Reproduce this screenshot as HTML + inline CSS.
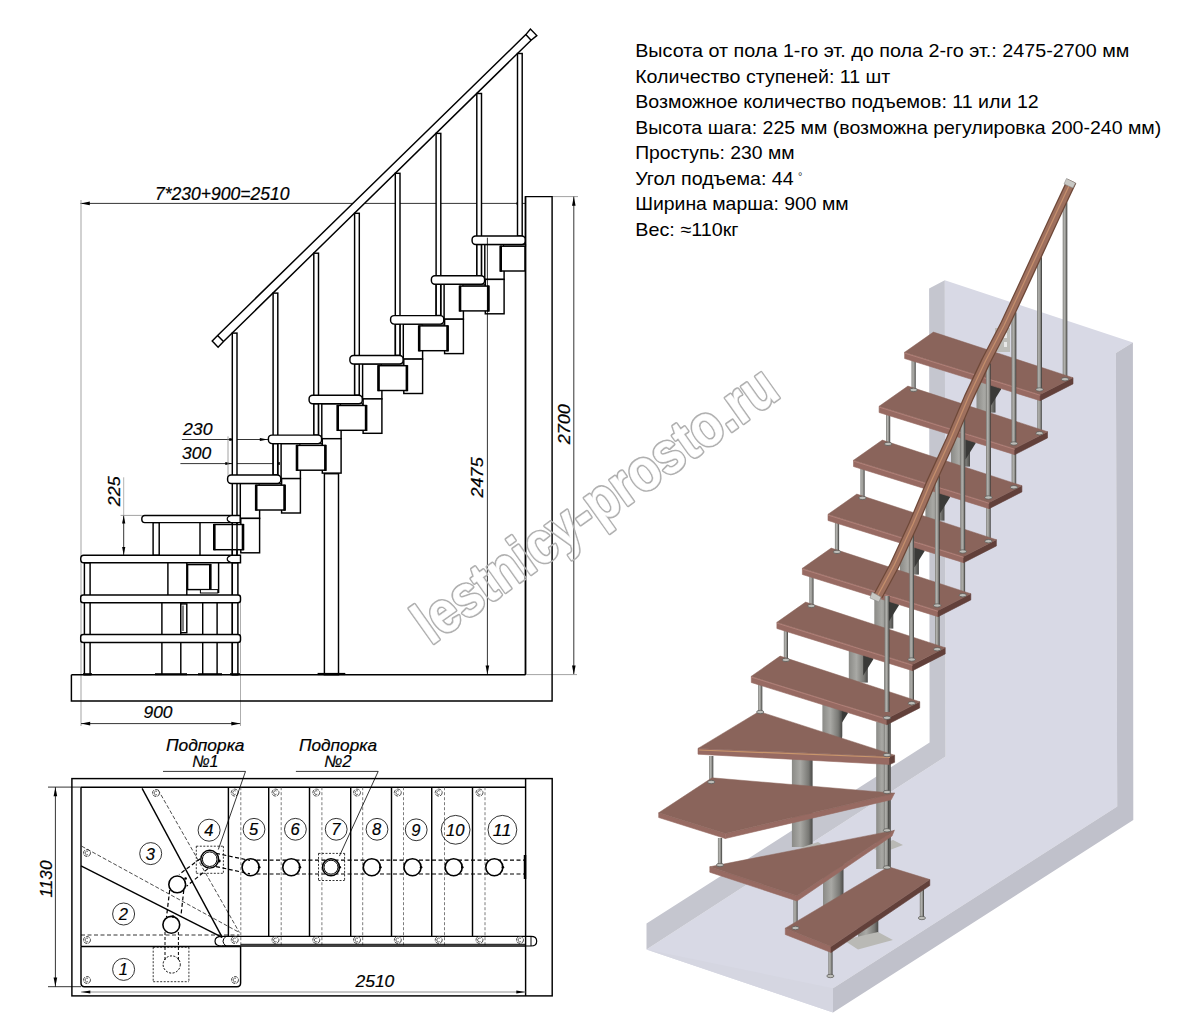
<!DOCTYPE html>
<html><head><meta charset="utf-8"><style>html,body{margin:0;padding:0;background:#fff;width:1191px;height:1015px;overflow:hidden}svg{display:block}</style></head>
<body><svg width="1191" height="1015" viewBox="0 0 1191 1015">
<defs>
<linearGradient id="rodg" x1="0" x2="1" y1="0" y2="0">
<stop offset="0" stop-color="#7c7c78"/><stop offset="0.35" stop-color="#b4b4b0"/><stop offset="0.7" stop-color="#8a8a86"/><stop offset="1" stop-color="#333331"/>
</linearGradient>
<linearGradient id="colg" x1="0" x2="1" y1="0" y2="0">
<stop offset="0" stop-color="#8a8a86"/><stop offset="0.4" stop-color="#a9a9a5"/><stop offset="0.8" stop-color="#7a7a76"/><stop offset="1" stop-color="#4a4a48"/>
</linearGradient>
</defs><rect width="1191" height="1015" fill="#fff"/>
<g font-family='"Liberation Sans", sans-serif' font-size="18.6" fill="#000">
<text x="635.2" y="56.9" textLength="494.2" lengthAdjust="spacingAndGlyphs">Высота от пола 1-го эт. до пола 2-го эт.: 2475-2700 мм</text>
<text x="635.2" y="82.6" textLength="255.1" lengthAdjust="spacingAndGlyphs">Количество ступеней: 11 шт</text>
<text x="635.2" y="107.8" textLength="403.5" lengthAdjust="spacingAndGlyphs">Возможное количество подъемов: 11 или 12</text>
<text x="635.2" y="133.6" textLength="526.1" lengthAdjust="spacingAndGlyphs">Высота шага: 225 мм (возможна регулировка 200-240 мм)</text>
<text x="635.2" y="158.6" textLength="159.4" lengthAdjust="spacingAndGlyphs">Проступь: 230 мм</text>
<text x="635.2" y="184.7" textLength="158.5" lengthAdjust="spacingAndGlyphs">Угол подъема: 44</text>
<text x="635.2" y="209.8" textLength="213.5" lengthAdjust="spacingAndGlyphs">Ширина марша: 900 мм</text>
<text x="635.2" y="235.5" textLength="103.4" lengthAdjust="spacingAndGlyphs">Вес: ≈110кг</text>
<text x="798" y="179.5" font-size="11" stroke="none" fill="#333">°</text>
</g>
<polygon points="944.8,280.3 1132.9,342.5 1115.9,353.1 1117.2,806.5 833.0,988.2 833.0,1012.5 646.5,949.4 945.6,756.5" fill="#d8d9e5" />
<polygon points="929.1,288.5 944.8,280.3 945.6,756.5 646.5,949.4 646.5,923.6 929.6,742.5" fill="#c5c6cf" />
<polygon points="1115.9,353.1 1132.9,342.5 1133.3,820.0 833.0,1012.5 833.0,988.2 1117.2,806.5" fill="#c0c1cb" />
<polygon points="646.5,949.4 833.0,1012.5 833.0,988.2" fill="#d5d6e1" />
<rect x="995" y="328" width="15" height="24" fill="#bdbdb9"/>
<rect x="1004" y="333" width="3" height="5" fill="#e8e8e8"/><rect x="1004" y="342" width="3" height="5" fill="#e8e8e8"/>
<rect x="976.5" y="375.6" width="19" height="37.0" fill="url(#colg)"/>
<polygon points="991.0,381.6 1001.0,385.6 1001.0,389.6 991.0,405.6" fill="#3a3a38" />
<rect x="951.0" y="429.6" width="19" height="37.0" fill="url(#colg)"/>
<polygon points="965.5,435.6 975.5,439.6 975.5,443.6 965.5,459.6" fill="#3a3a38" />
<rect x="925.4" y="483.6" width="19" height="37.0" fill="url(#colg)"/>
<polygon points="939.9,489.6 949.9,493.6 949.9,497.6 939.9,513.6" fill="#3a3a38" />
<rect x="899.9" y="537.6" width="19" height="37.0" fill="url(#colg)"/>
<polygon points="914.4,543.6 924.4,547.6 924.4,551.6 914.4,567.6" fill="#3a3a38" />
<rect x="874.3" y="591.6" width="19" height="37.0" fill="url(#colg)"/>
<polygon points="888.8,597.6 898.8,601.6 898.8,605.6 888.8,621.6" fill="#3a3a38" />
<rect x="848.8" y="645.6" width="19" height="37.0" fill="url(#colg)"/>
<polygon points="863.2,651.6 873.2,655.6 873.2,659.6 863.2,675.6" fill="#3a3a38" />
<rect x="823.2" y="699.6" width="19" height="37.0" fill="url(#colg)"/>
<polygon points="837.7,705.6 847.7,709.6 847.7,713.6 837.7,729.6" fill="#3a3a38" />
<rect x="822.4" y="700" width="19.7" height="40" fill="url(#colg)"/>
<rect x="791.9" y="755" width="20.7" height="92" fill="url(#colg)"/>
<rect x="823" y="860" width="20.5" height="78" fill="url(#colg)"/>
<rect x="858" y="915" width="20.3" height="23" fill="url(#colg)"/>
<polygon points="843.5,940.0 878.0,932.0 892.9,940.0 858.0,949.6" fill="#b9b9b5" />
<polygon points="832.0,700.0 848.0,694.0 860.0,700.0 845.0,706.0" fill="#aaaaa6" />
<polygon points="800.0,848.0 818.0,842.0 828.0,848.0 812.0,854.0" fill="#b9b9b5" />
<polygon points="872.0,848.0 893.0,840.0 903.0,845.0 882.0,853.0" fill="#b9b9b5" />
<rect x="911.5" y="358.5" width="4.2" height="31.4" fill="url(#rodg)"/>
<rect x="886.0" y="412.5" width="4.2" height="31.4" fill="url(#rodg)"/>
<rect x="860.4" y="466.5" width="4.2" height="31.4" fill="url(#rodg)"/>
<rect x="834.9" y="520.5" width="4.2" height="31.4" fill="url(#rodg)"/>
<rect x="809.3" y="574.5" width="4.2" height="31.4" fill="url(#rodg)"/>
<rect x="783.8" y="628.5" width="4.2" height="31.4" fill="url(#rodg)"/>
<rect x="1062.7" y="202.4" width="4.6" height="176.8" fill="url(#rodg)"/>
<rect x="1037.2" y="257.3" width="4.6" height="175.9" fill="url(#rodg)"/>
<rect x="1011.6" y="312.4" width="4.6" height="174.8" fill="url(#rodg)"/>
<rect x="986.1" y="363.5" width="4.6" height="177.7" fill="url(#rodg)"/>
<rect x="960.5" y="418.5" width="4.6" height="176.7" fill="url(#rodg)"/>
<rect x="935.0" y="476.1" width="4.6" height="173.1" fill="url(#rodg)"/>
<rect x="909.4" y="534.9" width="4.6" height="168.3" fill="url(#rodg)"/>
<rect x="876.2" y="722" width="14.6" height="147" fill="url(#colg)"/>
<rect x="884.1" y="596.0" width="4.8" height="272.0" fill="url(#rodg)"/>
<rect x="758.1" y="684.0" width="4.2" height="28.0" fill="url(#rodg)"/>
<rect x="709.1" y="756.0" width="4.2" height="26.0" fill="url(#rodg)"/>
<rect x="717.9" y="838.0" width="4.2" height="27.0" fill="url(#rodg)"/>
<rect x="793.4" y="898.0" width="4.2" height="30.0" fill="url(#rodg)"/>
<rect x="828.3" y="950.0" width="4.2" height="26.0" fill="url(#rodg)"/>
<rect x="919.8" y="885.0" width="4.2" height="33.0" fill="url(#rodg)"/>
<polygon points="904.6,352.3 1040.2,394.5 1040.2,400.7 904.6,358.5" fill="#976a62" stroke="#976a62" stroke-width="0.6" stroke-linejoin="round"/>
<polygon points="1040.2,394.5 1073.0,377.7 1073.0,383.9 1040.2,400.7" fill="#62403a" stroke="#62403a" stroke-width="0.6" stroke-linejoin="round"/>
<polygon points="904.6,352.3 933.4,332.1 1073.0,377.7 1040.2,394.5" fill="#8a645b" stroke="#8a645b" stroke-width="0.5"/>
<line x1="904.6" y1="353.1" x2="1040.2" y2="395.3" stroke="#b08078" stroke-width="1"/>
<polygon points="879.1,406.3 1014.7,448.5 1014.7,454.7 879.1,412.5" fill="#976a62" stroke="#976a62" stroke-width="0.6" stroke-linejoin="round"/>
<polygon points="1014.7,448.5 1047.5,431.7 1047.5,437.9 1014.7,454.7" fill="#62403a" stroke="#62403a" stroke-width="0.6" stroke-linejoin="round"/>
<polygon points="879.1,406.3 907.9,386.1 1047.5,431.7 1014.7,448.5" fill="#8a645b" stroke="#8a645b" stroke-width="0.5"/>
<line x1="879.1" y1="407.1" x2="1014.7" y2="449.3" stroke="#b08078" stroke-width="1"/>
<polygon points="853.5,460.3 989.1,502.5 989.1,508.7 853.5,466.5" fill="#976a62" stroke="#976a62" stroke-width="0.6" stroke-linejoin="round"/>
<polygon points="989.1,502.5 1021.9,485.7 1021.9,491.9 989.1,508.7" fill="#62403a" stroke="#62403a" stroke-width="0.6" stroke-linejoin="round"/>
<polygon points="853.5,460.3 882.3,440.1 1021.9,485.7 989.1,502.5" fill="#8a645b" stroke="#8a645b" stroke-width="0.5"/>
<line x1="853.5" y1="461.1" x2="989.1" y2="503.3" stroke="#b08078" stroke-width="1"/>
<polygon points="828.0,514.3 963.6,556.5 963.6,562.7 828.0,520.5" fill="#976a62" stroke="#976a62" stroke-width="0.6" stroke-linejoin="round"/>
<polygon points="963.6,556.5 996.4,539.7 996.4,545.9 963.6,562.7" fill="#62403a" stroke="#62403a" stroke-width="0.6" stroke-linejoin="round"/>
<polygon points="828.0,514.3 856.8,494.1 996.4,539.7 963.6,556.5" fill="#8a645b" stroke="#8a645b" stroke-width="0.5"/>
<line x1="828.0" y1="515.1" x2="963.6" y2="557.3" stroke="#b08078" stroke-width="1"/>
<polygon points="802.4,568.3 938.0,610.5 938.0,616.7 802.4,574.5" fill="#976a62" stroke="#976a62" stroke-width="0.6" stroke-linejoin="round"/>
<polygon points="938.0,610.5 970.8,593.7 970.8,599.9 938.0,616.7" fill="#62403a" stroke="#62403a" stroke-width="0.6" stroke-linejoin="round"/>
<polygon points="802.4,568.3 831.2,548.1 970.8,593.7 938.0,610.5" fill="#8a645b" stroke="#8a645b" stroke-width="0.5"/>
<line x1="802.4" y1="569.1" x2="938.0" y2="611.3" stroke="#b08078" stroke-width="1"/>
<polygon points="776.9,622.3 912.5,664.5 912.5,670.7 776.9,628.5" fill="#976a62" stroke="#976a62" stroke-width="0.6" stroke-linejoin="round"/>
<polygon points="912.5,664.5 945.2,647.7 945.2,653.9 912.5,670.7" fill="#62403a" stroke="#62403a" stroke-width="0.6" stroke-linejoin="round"/>
<polygon points="776.9,622.3 805.6,602.1 945.2,647.7 912.5,664.5" fill="#8a645b" stroke="#8a645b" stroke-width="0.5"/>
<line x1="776.9" y1="623.1" x2="912.5" y2="665.3" stroke="#b08078" stroke-width="1"/>
<polygon points="751.3,676.3 886.9,718.5 886.9,724.7 751.3,682.5" fill="#976a62" stroke="#976a62" stroke-width="0.6" stroke-linejoin="round"/>
<polygon points="886.9,718.5 919.7,701.7 919.7,707.9 886.9,724.7" fill="#62403a" stroke="#62403a" stroke-width="0.6" stroke-linejoin="round"/>
<polygon points="751.3,676.3 780.1,656.1 919.7,701.7 886.9,718.5" fill="#8a645b" stroke="#8a645b" stroke-width="0.5"/>
<line x1="751.3" y1="677.1" x2="886.9" y2="719.3" stroke="#b08078" stroke-width="1"/>
<polygon points="698.0,748.4 889.6,756.5 889.6,764.5 698.0,754.2" fill="#976a62" stroke="#976a62" stroke-width="0.6" stroke-linejoin="round"/>
<polygon points="889.6,756.5 894.6,755.2 894.6,762.3 889.6,764.5" fill="#62403a" stroke="#62403a" stroke-width="0.6" stroke-linejoin="round"/>
<polygon points="698.0,748.4 759.1,711.5 894.6,755.2 889.6,756.5" fill="#8a645b" stroke="#8a645b" stroke-width="0.5"/>
<line x1="699" y1="750" x2="890" y2="757.5" stroke="#c9966c" stroke-width="1.2"/>
<polygon points="658.7,812.8 725.3,833.5 725.3,838.5 658.7,817.5" fill="#976a62" stroke="#976a62" stroke-width="0.6" stroke-linejoin="round"/>
<polygon points="725.3,833.5 894.5,793.2 891.2,799.7 725.3,838.5" fill="#976a62" stroke="#976a62" stroke-width="0.6" stroke-linejoin="round"/>
<polygon points="658.7,812.8 712.0,777.8 894.5,793.2 725.3,833.5" fill="#8a645b" stroke="#8a645b" stroke-width="0.5"/>
<polygon points="709.8,866.8 797.0,895.8 797.0,901.0 709.8,872.2" fill="#976a62" stroke="#976a62" stroke-width="0.6" stroke-linejoin="round"/>
<polygon points="797.0,895.8 894.3,830.4 892.0,836.0 797.0,901.0" fill="#976a62" stroke="#976a62" stroke-width="0.6" stroke-linejoin="round"/>
<polygon points="709.8,866.8 894.3,830.4 797.0,895.8" fill="#8a645b" stroke="#8a645b" stroke-width="0.5"/>
<polygon points="785.3,928.2 831.0,946.5 831.0,952.5 785.3,934.5" fill="#976a62" stroke="#976a62" stroke-width="0.6" stroke-linejoin="round"/>
<polygon points="831.0,946.5 929.8,879.5 929.8,885.5 831.0,952.5" fill="#62403a" stroke="#62403a" stroke-width="0.6" stroke-linejoin="round"/>
<polygon points="785.3,928.2 888.5,866.8 929.8,879.5 831.0,946.5" fill="#8a645b" stroke="#8a645b" stroke-width="0.5"/>
<ellipse cx="913.6" cy="389.9" rx="3.6" ry="1.7" fill="#bdbdb8" stroke="#555552" stroke-width="0.7"/>
<ellipse cx="888.1" cy="443.9" rx="3.6" ry="1.7" fill="#bdbdb8" stroke="#555552" stroke-width="0.7"/>
<ellipse cx="862.5" cy="497.9" rx="3.6" ry="1.7" fill="#bdbdb8" stroke="#555552" stroke-width="0.7"/>
<ellipse cx="837.0" cy="551.9" rx="3.6" ry="1.7" fill="#bdbdb8" stroke="#555552" stroke-width="0.7"/>
<ellipse cx="811.4" cy="605.9" rx="3.6" ry="1.7" fill="#bdbdb8" stroke="#555552" stroke-width="0.7"/>
<ellipse cx="785.9" cy="659.9" rx="3.6" ry="1.7" fill="#bdbdb8" stroke="#555552" stroke-width="0.7"/>
<ellipse cx="1065.0" cy="379.2" rx="3.6" ry="1.7" fill="#bdbdb8" stroke="#555552" stroke-width="0.7"/>
<ellipse cx="1039.5" cy="433.2" rx="3.6" ry="1.7" fill="#bdbdb8" stroke="#555552" stroke-width="0.7"/>
<ellipse cx="1013.9" cy="487.2" rx="3.6" ry="1.7" fill="#bdbdb8" stroke="#555552" stroke-width="0.7"/>
<ellipse cx="988.4" cy="541.2" rx="3.6" ry="1.7" fill="#bdbdb8" stroke="#555552" stroke-width="0.7"/>
<ellipse cx="962.8" cy="595.2" rx="3.6" ry="1.7" fill="#bdbdb8" stroke="#555552" stroke-width="0.7"/>
<ellipse cx="937.2" cy="649.2" rx="3.6" ry="1.7" fill="#bdbdb8" stroke="#555552" stroke-width="0.7"/>
<ellipse cx="911.7" cy="703.2" rx="3.6" ry="1.7" fill="#bdbdb8" stroke="#555552" stroke-width="0.7"/>
<ellipse cx="887.0" cy="717.8" rx="3.6" ry="1.7" fill="#bdbdb8" stroke="#555552" stroke-width="0.7"/>
<ellipse cx="887.0" cy="755.0" rx="3.6" ry="1.7" fill="#bdbdb8" stroke="#555552" stroke-width="0.7"/>
<ellipse cx="887.0" cy="792.0" rx="3.6" ry="1.7" fill="#bdbdb8" stroke="#555552" stroke-width="0.7"/>
<ellipse cx="887.0" cy="830.3" rx="3.6" ry="1.7" fill="#bdbdb8" stroke="#555552" stroke-width="0.7"/>
<ellipse cx="887.0" cy="867.4" rx="3.6" ry="1.7" fill="#bdbdb8" stroke="#555552" stroke-width="0.7"/>
<ellipse cx="760.2" cy="712.0" rx="3.6" ry="1.7" fill="#bdbdb8" stroke="#555552" stroke-width="0.7"/>
<ellipse cx="711.2" cy="782.0" rx="3.6" ry="1.7" fill="#bdbdb8" stroke="#555552" stroke-width="0.7"/>
<ellipse cx="720.0" cy="865.0" rx="3.6" ry="1.7" fill="#bdbdb8" stroke="#555552" stroke-width="0.7"/>
<ellipse cx="795.5" cy="928.0" rx="3.6" ry="1.7" fill="#bdbdb8" stroke="#555552" stroke-width="0.7"/>
<ellipse cx="830.4" cy="976.0" rx="3.6" ry="1.7" fill="#bdbdb8" stroke="#555552" stroke-width="0.7"/>
<ellipse cx="921.9" cy="918.0" rx="3.6" ry="1.7" fill="#bdbdb8" stroke="#555552" stroke-width="0.7"/>
<rect x="1037.2" y="257.3" width="4.6" height="131.2" fill="url(#rodg)"/>
<ellipse cx="1039.5" cy="389.5" rx="3.6" ry="1.7" fill="#bdbdb8" stroke="#555552" stroke-width="0.7"/>
<rect x="1011.6" y="312.4" width="4.6" height="130.1" fill="url(#rodg)"/>
<ellipse cx="1013.9" cy="443.5" rx="3.6" ry="1.7" fill="#bdbdb8" stroke="#555552" stroke-width="0.7"/>
<rect x="986.1" y="363.5" width="4.6" height="133.0" fill="url(#rodg)"/>
<ellipse cx="988.4" cy="497.5" rx="3.6" ry="1.7" fill="#bdbdb8" stroke="#555552" stroke-width="0.7"/>
<rect x="960.5" y="418.5" width="4.6" height="132.0" fill="url(#rodg)"/>
<ellipse cx="962.8" cy="551.5" rx="3.6" ry="1.7" fill="#bdbdb8" stroke="#555552" stroke-width="0.7"/>
<rect x="935.0" y="476.1" width="4.6" height="128.4" fill="url(#rodg)"/>
<ellipse cx="937.2" cy="605.5" rx="3.6" ry="1.7" fill="#bdbdb8" stroke="#555552" stroke-width="0.7"/>
<rect x="909.4" y="534.9" width="4.6" height="123.6" fill="url(#rodg)"/>
<ellipse cx="911.7" cy="659.5" rx="3.6" ry="1.7" fill="#bdbdb8" stroke="#555552" stroke-width="0.7"/>
<rect x="884.6" y="596.0" width="4.8" height="116.0" fill="url(#rodg)"/>
<path d="M1071.8,181.0 L1054.7,217.3 L1038.3,252.8 L1021.9,288.3 L1004.5,325.5 L986.0,361.0 L969.0,397.0 L950.0,441.4 L931.0,482.7 L913.5,524.0 L894.5,565.4 L878.0,596.0" fill="none" stroke="#6e4838" stroke-width="10" stroke-linecap="butt" stroke-linejoin="round"/>
<path d="M1071.8,181.0 L1054.7,217.3 L1038.3,252.8 L1021.9,288.3 L1004.5,325.5 L986.0,361.0 L969.0,397.0 L950.0,441.4 L931.0,482.7 L913.5,524.0 L894.5,565.4 L878.0,596.0" fill="none" stroke="#9e705e" stroke-width="7.5" stroke-linejoin="round"/>
<path d="M1071.8,181.0 L1054.7,217.3 L1038.3,252.8 L1021.9,288.3 L1004.5,325.5 L986.0,361.0 L969.0,397.0 L950.0,441.4 L931.0,482.7 L913.5,524.0 L894.5,565.4 L878.0,596.0" fill="none" stroke="#c48e6c" stroke-width="1.3" stroke-linejoin="round" transform="translate(-0.5,0)"/>
<path d="M1066.5,178.5 L1075.5,183 L1073,188 L1064,184 Z" fill="#c8c8c4" stroke="#808080" stroke-width="0.5"/>
<path d="M872,592 L881,597 L879,602 L870,598 Z" fill="#c8c8c4" stroke="#808080" stroke-width="0.5"/>
<line x1="80.4" y1="203.4" x2="525.5" y2="203.4" stroke="#000" stroke-width="0.80" />
<polygon points="80.8,203.4 89.8,201.6 89.8,205.2" fill="#000"/>
<polygon points="522.6,203.4 516.6,204.9 516.6,201.9" fill="#000"/>
<line x1="81.0" y1="200.0" x2="81.0" y2="726.0" stroke="#999" stroke-width="0.90" />
<text x="155.0" y="199.6" font-family='"Liberation Sans", sans-serif' font-style="italic" font-size="17.6" stroke="#000" stroke-width="0.2" textLength="134.5" lengthAdjust="spacingAndGlyphs">7*230+900=2510</text>
<line x1="552.0" y1="196.6" x2="578.0" y2="196.6" stroke="#8a8a8a" stroke-width="0.80" />
<line x1="573.8" y1="196.6" x2="573.8" y2="674.6" stroke="#000" stroke-width="0.80" />
<polygon points="573.8,196.8 575.6,205.8 572.0,205.8" fill="#000"/>
<polygon points="573.8,674.4 572.0,665.4 575.6,665.4" fill="#000"/>
<line x1="526.7" y1="674.6" x2="577.0" y2="674.6" stroke="#999" stroke-width="0.90" />
<text x="0" y="0" font-family='"Liberation Sans", sans-serif' font-style="italic" font-size="16.5" stroke="#000" stroke-width="0.2" textLength="40.2" lengthAdjust="spacingAndGlyphs" transform="translate(569.8,444.3) rotate(-90)">2700</text>
<line x1="81.0" y1="723.6" x2="240.5" y2="723.6" stroke="#000" stroke-width="0.80" />
<polygon points="81.2,723.6 90.2,721.8 90.2,725.4" fill="#000"/>
<polygon points="240.3,723.6 231.3,725.4 231.3,721.8" fill="#000"/>
<line x1="240.5" y1="600.0" x2="240.5" y2="726.0" stroke="#999" stroke-width="0.80" />
<text x="143.5" y="718.2" font-family='"Liberation Sans", sans-serif' font-style="italic" font-size="16.5" stroke="#000" stroke-width="0.2" textLength="29.0" lengthAdjust="spacingAndGlyphs">900</text>
<line x1="123.7" y1="477.3" x2="123.7" y2="515.4" stroke="#aaa" stroke-width="0.90" />
<line x1="123.7" y1="515.4" x2="123.7" y2="555.3" stroke="#000" stroke-width="0.80" />
<polygon points="123.7,515.6 125.3,523.6 122.1,523.6" fill="#000"/>
<polygon points="123.7,555.0 122.1,547.0 125.3,547.0" fill="#000"/>
<line x1="120.6" y1="515.4" x2="141.8" y2="515.4" stroke="#8a8a8a" stroke-width="0.80" />
<text x="0" y="0" font-family='"Liberation Sans", sans-serif' font-style="italic" font-size="16.5" stroke="#000" stroke-width="0.2" textLength="30.0" lengthAdjust="spacingAndGlyphs" transform="translate(120.3,506.2) rotate(-90)">225</text>
<line x1="181.9" y1="439.5" x2="268.0" y2="439.5" stroke="#000" stroke-width="0.80" />
<polygon points="236.3,439.5 229.3,441.0 229.3,438.0" fill="#000"/>
<polygon points="267.8,439.5 259.8,441.1 259.8,437.9" fill="#000"/>
<line x1="180.4" y1="463.6" x2="276.0" y2="463.6" stroke="#000" stroke-width="0.80" />
<polygon points="232.3,463.6 225.3,465.1 225.3,462.1" fill="#000"/>
<polygon points="272.8,463.6 279.8,462.1 279.8,465.1" fill="#000"/>
<line x1="228.0" y1="436.4" x2="228.0" y2="478.0" stroke="#8a8a8a" stroke-width="0.80" />
<text x="183.0" y="434.5" font-family='"Liberation Sans", sans-serif' font-style="italic" font-size="16.5" stroke="#000" stroke-width="0.2" textLength="29.5" lengthAdjust="spacingAndGlyphs">230</text>
<text x="182.0" y="458.7" font-family='"Liberation Sans", sans-serif' font-style="italic" font-size="16.5" stroke="#000" stroke-width="0.2" textLength="29.2" lengthAdjust="spacingAndGlyphs">300</text>
<path d="M71.4,674.7 L525.5,674.7 M71.4,674.7 L71.4,701 L552.1,701 L552.1,196.6 L525.5,196.6 L525.5,674.7" fill="none" stroke="#000" stroke-width="1.45"/>
<rect x="324.4" y="473.7" width="14.1" height="201.0" rx="0.0" fill="#fff" stroke="#000" stroke-width="1.45"/>
<line x1="317.6" y1="674.0" x2="345.3" y2="674.0" stroke="#000" stroke-width="2.20" />
<path d="M217.6,335.4 L525.8,34.6 L530.4,29.1 L536.8,35.6 L531.1,40.2 L223.5,341.5 L218.1,347.2 L212.2,341 Z M217.6,335.4 L223.5,341.5 M525.8,34.6 L531.1,40.2" fill="#fff" stroke="#000" stroke-width="1.45" stroke-linejoin="miter"/>
<rect x="232.3" y="333.1" width="4.7" height="341.5" rx="0.0" fill="#fff" stroke="#000" stroke-width="1.45"/>
<rect x="273.1" y="293.1" width="4.7" height="181.8" rx="0.0" fill="#fff" stroke="#000" stroke-width="1.45"/>
<rect x="313.8" y="253.2" width="4.7" height="181.9" rx="0.0" fill="#fff" stroke="#000" stroke-width="1.45"/>
<rect x="354.6" y="213.3" width="4.7" height="182.0" rx="0.0" fill="#fff" stroke="#000" stroke-width="1.45"/>
<rect x="395.3" y="173.3" width="4.7" height="182.1" rx="0.0" fill="#fff" stroke="#000" stroke-width="1.45"/>
<rect x="436.1" y="133.4" width="4.7" height="182.2" rx="0.0" fill="#fff" stroke="#000" stroke-width="1.45"/>
<rect x="476.8" y="93.5" width="4.7" height="182.3" rx="0.0" fill="#fff" stroke="#000" stroke-width="1.45"/>
<rect x="517.5" y="53.5" width="4.7" height="182.4" rx="0.0" fill="#fff" stroke="#000" stroke-width="1.45"/>
<rect x="484.8" y="244.4" width="19.3" height="35.0" rx="0.0" fill="#fff" stroke="#000" stroke-width="1.45"/>
<rect x="485.3" y="279.4" width="18.8" height="34.4" rx="0.0" fill="#fff" stroke="#000" stroke-width="1.45"/>
<rect x="503.6" y="244.4" width="22.0" height="1.8" rx="0.0" fill="#fff" stroke="#000" stroke-width="1.00"/>
<rect x="500.7" y="246.2" width="24.3" height="24.8" rx="0.0" fill="#fff" stroke="#000" stroke-width="1.45"/>
<line x1="500.7" y1="245.7" x2="500.7" y2="271.7" stroke="#000" stroke-width="2.60" />
<rect x="476.9" y="244.4" width="4.5" height="31.3" rx="0.0" fill="#fff" stroke="#000" stroke-width="1.45"/>
<rect x="472.1" y="235.9" width="53.2" height="8.5" rx="3.5" fill="#fff" stroke="#000" stroke-width="1.45"/>
<rect x="444.1" y="284.2" width="19.3" height="35.0" rx="0.0" fill="#fff" stroke="#000" stroke-width="1.45"/>
<rect x="444.6" y="319.2" width="18.8" height="34.4" rx="0.0" fill="#fff" stroke="#000" stroke-width="1.45"/>
<rect x="462.9" y="284.2" width="22.0" height="1.8" rx="0.0" fill="#fff" stroke="#000" stroke-width="1.00"/>
<rect x="460.0" y="286.1" width="28.4" height="24.8" rx="0.0" fill="#fff" stroke="#000" stroke-width="1.45"/>
<line x1="460.0" y1="285.6" x2="460.0" y2="311.6" stroke="#000" stroke-width="2.60" />
<line x1="488.4" y1="285.6" x2="488.4" y2="311.6" stroke="#000" stroke-width="2.60" />
<rect x="436.2" y="284.2" width="4.5" height="31.3" rx="0.0" fill="#fff" stroke="#000" stroke-width="1.45"/>
<rect x="431.4" y="275.8" width="53.2" height="8.5" rx="3.5" fill="#fff" stroke="#000" stroke-width="1.45"/>
<rect x="403.3" y="324.1" width="19.3" height="35.0" rx="0.0" fill="#fff" stroke="#000" stroke-width="1.45"/>
<rect x="403.8" y="359.1" width="18.8" height="34.4" rx="0.0" fill="#fff" stroke="#000" stroke-width="1.45"/>
<rect x="422.1" y="324.1" width="22.0" height="1.8" rx="0.0" fill="#fff" stroke="#000" stroke-width="1.00"/>
<rect x="419.2" y="325.9" width="28.4" height="24.8" rx="0.0" fill="#fff" stroke="#000" stroke-width="1.45"/>
<line x1="419.2" y1="325.4" x2="419.2" y2="351.4" stroke="#000" stroke-width="2.60" />
<line x1="447.6" y1="325.4" x2="447.6" y2="351.4" stroke="#000" stroke-width="2.60" />
<rect x="395.4" y="324.1" width="4.5" height="31.3" rx="0.0" fill="#fff" stroke="#000" stroke-width="1.45"/>
<rect x="390.6" y="315.6" width="53.2" height="8.5" rx="3.5" fill="#fff" stroke="#000" stroke-width="1.45"/>
<rect x="362.6" y="363.9" width="19.3" height="35.0" rx="0.0" fill="#fff" stroke="#000" stroke-width="1.45"/>
<rect x="363.1" y="398.9" width="18.8" height="34.4" rx="0.0" fill="#fff" stroke="#000" stroke-width="1.45"/>
<rect x="381.4" y="363.9" width="22.0" height="1.8" rx="0.0" fill="#fff" stroke="#000" stroke-width="1.00"/>
<rect x="378.5" y="365.7" width="28.4" height="24.8" rx="0.0" fill="#fff" stroke="#000" stroke-width="1.45"/>
<line x1="378.5" y1="365.2" x2="378.5" y2="391.2" stroke="#000" stroke-width="2.60" />
<line x1="406.9" y1="365.2" x2="406.9" y2="391.2" stroke="#000" stroke-width="2.60" />
<rect x="354.7" y="363.9" width="4.5" height="31.3" rx="0.0" fill="#fff" stroke="#000" stroke-width="1.45"/>
<rect x="349.9" y="355.4" width="53.2" height="8.5" rx="3.5" fill="#fff" stroke="#000" stroke-width="1.45"/>
<rect x="321.8" y="403.7" width="19.3" height="35.0" rx="0.0" fill="#fff" stroke="#000" stroke-width="1.45"/>
<rect x="322.3" y="438.7" width="18.8" height="34.4" rx="0.0" fill="#fff" stroke="#000" stroke-width="1.45"/>
<rect x="340.6" y="403.7" width="22.0" height="1.8" rx="0.0" fill="#fff" stroke="#000" stroke-width="1.00"/>
<rect x="337.7" y="405.5" width="28.4" height="24.8" rx="0.0" fill="#fff" stroke="#000" stroke-width="1.45"/>
<line x1="337.7" y1="405.0" x2="337.7" y2="431.0" stroke="#000" stroke-width="2.60" />
<line x1="366.1" y1="405.0" x2="366.1" y2="431.0" stroke="#000" stroke-width="2.60" />
<rect x="313.9" y="403.7" width="4.5" height="31.3" rx="0.0" fill="#fff" stroke="#000" stroke-width="1.45"/>
<rect x="309.1" y="395.2" width="53.2" height="8.5" rx="3.5" fill="#fff" stroke="#000" stroke-width="1.45"/>
<rect x="281.1" y="443.6" width="19.3" height="35.0" rx="0.0" fill="#fff" stroke="#000" stroke-width="1.45"/>
<rect x="281.6" y="478.6" width="18.8" height="34.4" rx="0.0" fill="#fff" stroke="#000" stroke-width="1.45"/>
<rect x="299.9" y="443.6" width="22.0" height="1.8" rx="0.0" fill="#fff" stroke="#000" stroke-width="1.00"/>
<rect x="297.0" y="445.4" width="28.4" height="24.8" rx="0.0" fill="#fff" stroke="#000" stroke-width="1.45"/>
<line x1="297.0" y1="444.9" x2="297.0" y2="470.9" stroke="#000" stroke-width="2.60" />
<line x1="325.4" y1="444.9" x2="325.4" y2="470.9" stroke="#000" stroke-width="2.60" />
<rect x="273.2" y="443.6" width="4.5" height="31.3" rx="0.0" fill="#fff" stroke="#000" stroke-width="1.45"/>
<rect x="268.4" y="435.1" width="53.2" height="8.5" rx="3.5" fill="#fff" stroke="#000" stroke-width="1.45"/>
<rect x="240.3" y="483.4" width="19.3" height="35.0" rx="0.0" fill="#fff" stroke="#000" stroke-width="1.45"/>
<rect x="240.8" y="518.4" width="18.8" height="34.4" rx="0.0" fill="#fff" stroke="#000" stroke-width="1.45"/>
<rect x="259.1" y="483.4" width="22.0" height="1.8" rx="0.0" fill="#fff" stroke="#000" stroke-width="1.00"/>
<rect x="256.2" y="485.2" width="28.4" height="24.8" rx="0.0" fill="#fff" stroke="#000" stroke-width="1.45"/>
<line x1="256.2" y1="484.7" x2="256.2" y2="510.7" stroke="#000" stroke-width="2.60" />
<line x1="284.6" y1="484.7" x2="284.6" y2="510.7" stroke="#000" stroke-width="2.60" />
<rect x="227.6" y="474.9" width="53.2" height="8.5" rx="3.5" fill="#fff" stroke="#000" stroke-width="1.45"/>
<line x1="525.5" y1="196.6" x2="525.5" y2="674.7" stroke="#000" stroke-width="1.45" />
<rect x="153.1" y="522.5" width="6.1" height="32.8" rx="0.0" fill="#fff" stroke="#000" stroke-width="1.45"/>
<line x1="200.0" y1="522.5" x2="200.0" y2="555.3" stroke="#000" stroke-width="1.45" />
<rect x="214.3" y="524.5" width="28.7" height="25.2" rx="0.0" fill="#fff" stroke="#000" stroke-width="1.45"/>
<line x1="214.3" y1="524.0" x2="214.3" y2="550.2" stroke="#000" stroke-width="2.60" />
<line x1="243.0" y1="524.0" x2="243.0" y2="550.2" stroke="#000" stroke-width="2.60" />
<line x1="232.3" y1="522" x2="232.3" y2="556" stroke="#000" stroke-width="1.45"/>
<line x1="237.0" y1="522" x2="237.0" y2="556" stroke="#000" stroke-width="1.45"/>
<path d="M144.8,515.4 L240.2,515.4 L240.2,522.6 L144.8,522.6 Q141.8,522.6 141.8,519 Q141.8,515.4 144.8,515.4 Z" fill="#fff" stroke="#000" stroke-width="1.45"/>
<path d="M230.8,515.6 Q227,517 227.2,519 Q227,521 230.8,522.4" fill="none" stroke="#000" stroke-width="1.1"/>
<rect x="84.4" y="562.8" width="5.7" height="111.9" rx="0.0" fill="#fff" stroke="#000" stroke-width="1.45"/>
<rect x="232.3" y="562.8" width="5.6" height="111.9" rx="0.0" fill="#fff" stroke="#000" stroke-width="1.45"/>
<line x1="167.9" y1="562.8" x2="167.9" y2="594.9" stroke="#000" stroke-width="1.45" />
<line x1="186.8" y1="562.8" x2="186.8" y2="594.9" stroke="#000" stroke-width="1.45" />
<rect x="187.6" y="564.6" width="22.7" height="25.0" rx="0.0" fill="#fff" stroke="#000" stroke-width="1.45"/>
<line x1="210.3" y1="564.0" x2="210.3" y2="590.0" stroke="#000" stroke-width="2.60" />
<rect x="200.4" y="589.6" width="17.4" height="3.4" rx="0.0" fill="#fff" stroke="#000" stroke-width="1.00"/>
<line x1="218.6" y1="562.8" x2="218.6" y2="593.0" stroke="#000" stroke-width="1.45" />
<path d="M83.7,555.3 L240.5,555.3 L240.5,562.8 L83.7,562.8 Q80.7,562.8 80.7,559 Q80.7,555.3 83.7,555.3 Z" fill="#fff" stroke="#000" stroke-width="1.45"/>
<path d="M230.8,555.5 Q227,557 227.2,559 Q227,561 230.8,562.6" fill="none" stroke="#000" stroke-width="1.1"/>
<rect x="80.7" y="594.9" width="159.8" height="7.8" rx="2.5" fill="#fff" stroke="#000" stroke-width="1.45"/>
<line x1="161.9" y1="602.7" x2="161.9" y2="634.5" stroke="#000" stroke-width="1.45" />
<line x1="180.8" y1="602.7" x2="180.8" y2="634.5" stroke="#000" stroke-width="1.45" />
<rect x="180.8" y="603.9" width="6.0" height="28.8" rx="0.0" fill="#fff" stroke="#000" stroke-width="1.45"/>
<line x1="183.0" y1="605.5" x2="183.0" y2="631.0" stroke="#000" stroke-width="1.00" />
<line x1="202.7" y1="602.7" x2="202.7" y2="634.5" stroke="#000" stroke-width="1.45" />
<line x1="217.1" y1="602.7" x2="217.1" y2="634.5" stroke="#000" stroke-width="1.45" />
<rect x="80.7" y="634.5" width="159.8" height="8.0" rx="2.5" fill="#fff" stroke="#000" stroke-width="1.45"/>
<line x1="161.9" y1="642.5" x2="161.9" y2="674.7" stroke="#000" stroke-width="1.45" />
<line x1="180.8" y1="642.5" x2="180.8" y2="674.7" stroke="#000" stroke-width="1.45" />
<line x1="202.7" y1="642.5" x2="202.7" y2="674.7" stroke="#000" stroke-width="1.45" />
<line x1="217.1" y1="642.5" x2="217.1" y2="674.7" stroke="#000" stroke-width="1.45" />
<line x1="83.0" y1="674.2" x2="92.0" y2="674.2" stroke="#000" stroke-width="2.00" />
<line x1="155.0" y1="674.2" x2="187.0" y2="674.2" stroke="#000" stroke-width="2.00" />
<line x1="198.0" y1="674.2" x2="222.0" y2="674.2" stroke="#000" stroke-width="2.00" />
<line x1="230.0" y1="674.2" x2="240.0" y2="674.2" stroke="#000" stroke-width="2.00" />
<line x1="487.4" y1="237.7" x2="487.4" y2="674.6" stroke="#000" stroke-width="0.80" />
<polygon points="487.4,674.4 485.6,665.4 489.2,665.4" fill="#000"/>
<text x="0" y="0" font-family='"Liberation Sans", sans-serif' font-style="italic" font-size="16.5" stroke="#000" stroke-width="0.2" textLength="40.2" lengthAdjust="spacingAndGlyphs" transform="translate(483.2,497.5) rotate(-90)">2475</text>
<rect x="71.9" y="778.6" width="480.3" height="217.3" rx="0.0" fill="none" stroke="#000" stroke-width="1.45"/>
<line x1="81.0" y1="787.2" x2="525.6" y2="787.2" stroke="#000" stroke-width="1.45" />
<line x1="525.6" y1="778.6" x2="525.6" y2="995.9" stroke="#000" stroke-width="1.45" />
<line x1="81.0" y1="787.2" x2="81.0" y2="946.5" stroke="#000" stroke-width="1.45" />
<line x1="55.4" y1="787.1" x2="55.4" y2="986.7" stroke="#000" stroke-width="0.80" />
<polygon points="55.4,787.3 57.2,796.3 53.6,796.3" fill="#000"/>
<polygon points="55.4,986.5 53.6,977.5 57.2,977.5" fill="#000"/>
<line x1="48.0" y1="787.1" x2="81.0" y2="787.1" stroke="#000" stroke-width="0.80" />
<line x1="48.0" y1="986.7" x2="81.0" y2="986.7" stroke="#000" stroke-width="0.80" />
<text x="0" y="0" font-family='"Liberation Sans", sans-serif' font-style="italic" font-size="16.5" stroke="#000" stroke-width="0.2" textLength="36.8" lengthAdjust="spacingAndGlyphs" transform="translate(52.0,897.4) rotate(-90)">1130</text>
<line x1="81.0" y1="992.0" x2="525.6" y2="992.0" stroke="#777" stroke-width="0.80" />
<polygon points="81.3,992.0 90.3,990.4 90.3,993.6" fill="#000"/>
<polygon points="525.3,992.0 516.3,993.6 516.3,990.4" fill="#000"/>
<text x="355.5" y="987.0" font-family='"Liberation Sans", sans-serif' font-style="italic" font-size="16.5" stroke="#000" stroke-width="0.2" textLength="38.8" lengthAdjust="spacingAndGlyphs">2510</text>
<path d="M81,946.5 L81,983 Q81,986.7 84.5,986.7 L237,986.7 Q240.6,986.7 240.6,983 L240.6,946.5" fill="none" stroke="#000" stroke-width="1.45"/>
<line x1="81.0" y1="946.5" x2="240.6" y2="946.5" stroke="#000" stroke-width="1.45" />
<line x1="81.0" y1="935.0" x2="239.4" y2="935.0" stroke="#000" stroke-width="0.80" stroke-dasharray="4,2.5"/>
<line x1="81.0" y1="865.9" x2="222.2" y2="937.4" stroke="#000" stroke-width="1.40" />
<line x1="142.1" y1="788.3" x2="222.2" y2="937.4" stroke="#000" stroke-width="1.40" />
<line x1="81.7" y1="846.2" x2="239.4" y2="932.5" stroke="#000" stroke-width="0.70" stroke-dasharray="4,2"/>
<line x1="158.0" y1="789.6" x2="239.4" y2="932.5" stroke="#000" stroke-width="0.70" stroke-dasharray="4,2"/>
<line x1="228.4" y1="787.2" x2="228.4" y2="937.0" stroke="#000" stroke-width="1.45" />
<line x1="268.7" y1="787.2" x2="268.7" y2="937.0" stroke="#000" stroke-width="1.45" />
<line x1="309.5" y1="787.2" x2="309.5" y2="937.0" stroke="#000" stroke-width="1.45" />
<line x1="350.7" y1="787.2" x2="350.7" y2="937.0" stroke="#000" stroke-width="1.45" />
<line x1="391.5" y1="787.2" x2="391.5" y2="937.0" stroke="#000" stroke-width="1.45" />
<line x1="431.7" y1="787.2" x2="431.7" y2="937.0" stroke="#000" stroke-width="1.45" />
<line x1="472.5" y1="787.2" x2="472.5" y2="937.0" stroke="#000" stroke-width="1.45" />
<line x1="240.8" y1="787.2" x2="240.8" y2="946.0" stroke="#444" stroke-width="0.70" stroke-dasharray="3,2"/>
<line x1="281.2" y1="787.2" x2="281.2" y2="946.0" stroke="#444" stroke-width="0.70" stroke-dasharray="3,2"/>
<line x1="321.9" y1="787.2" x2="321.9" y2="946.0" stroke="#444" stroke-width="0.70" stroke-dasharray="3,2"/>
<line x1="362.7" y1="787.2" x2="362.7" y2="946.0" stroke="#444" stroke-width="0.70" stroke-dasharray="3,2"/>
<line x1="403.5" y1="787.2" x2="403.5" y2="946.0" stroke="#444" stroke-width="0.70" stroke-dasharray="3,2"/>
<line x1="444.5" y1="787.2" x2="444.5" y2="946.0" stroke="#444" stroke-width="0.70" stroke-dasharray="3,2"/>
<line x1="485.0" y1="787.2" x2="485.0" y2="946.0" stroke="#444" stroke-width="0.70" stroke-dasharray="3,2"/>
<line x1="222.0" y1="936.4" x2="526.0" y2="936.4" stroke="#000" stroke-width="1.20" />
<line x1="222.0" y1="946.0" x2="526.0" y2="946.0" stroke="#000" stroke-width="1.30" />
<line x1="240.6" y1="944.3" x2="526.0" y2="944.3" stroke="#000" stroke-width="1.00" />
<path d="M222,936.4 Q215,936.4 215,941.2 Q215,946 222,946" fill="none" stroke="#000" stroke-width="1.2"/>
<path d="M226,936.4 Q220,941.2 226,946" fill="none" stroke="#000" stroke-width="1.0"/>
<path d="M526,936.4 L531,936.4 Q536.7,936.4 536.7,941.2 Q536.7,946 531,946 L526,946" fill="none" stroke="#000" stroke-width="1.2"/>
<line x1="531.0" y1="936.4" x2="531.0" y2="946.0" stroke="#000" stroke-width="1.00" />
<line x1="250.0" y1="860.2" x2="525.0" y2="860.2" stroke="#000" stroke-width="1.20" stroke-dasharray="4,2.5"/>
<line x1="250.0" y1="874.0" x2="525.0" y2="874.0" stroke="#000" stroke-width="1.20" stroke-dasharray="4,2.5"/>
<line x1="525.0" y1="855.0" x2="525.0" y2="879.0" stroke="#000" stroke-width="2.50" />
<circle cx="250.6" cy="867.2" r="8.5" fill="#fff" stroke="#000" stroke-width="1.60"/>
<circle cx="259.2" cy="867.2" r="1.3" fill="#000"/>
<circle cx="291.3" cy="867.2" r="8.5" fill="#fff" stroke="#000" stroke-width="1.60"/>
<circle cx="299.9" cy="867.2" r="1.3" fill="#000"/>
<circle cx="371.8" cy="867.2" r="8.5" fill="#fff" stroke="#000" stroke-width="1.60"/>
<circle cx="380.4" cy="867.2" r="1.3" fill="#000"/>
<circle cx="412.5" cy="867.2" r="8.5" fill="#fff" stroke="#000" stroke-width="1.60"/>
<circle cx="421.1" cy="867.2" r="1.3" fill="#000"/>
<circle cx="453.7" cy="867.2" r="8.5" fill="#fff" stroke="#000" stroke-width="1.60"/>
<circle cx="462.3" cy="867.2" r="1.3" fill="#000"/>
<circle cx="494.3" cy="867.2" r="8.5" fill="#fff" stroke="#000" stroke-width="1.60"/>
<circle cx="502.9" cy="867.2" r="1.3" fill="#000"/>
<circle cx="331.0" cy="867.2" r="8.5" fill="#fff" stroke="#000" stroke-width="1.50"/>
<circle cx="331.0" cy="867.2" r="7.0" fill="none" stroke="#000" stroke-width="1.00"/>
<circle cx="339.8" cy="867.2" r="1.3" fill="#000"/>
<line x1="318.5" y1="853.4" x2="344.6" y2="853.4" stroke="#000" stroke-width="0.80" stroke-dasharray="2,1.5"/>
<line x1="318.5" y1="880.5" x2="344.6" y2="880.5" stroke="#000" stroke-width="0.80" stroke-dasharray="2,1.5"/>
<line x1="318.5" y1="853.4" x2="318.5" y2="880.5" stroke="#000" stroke-width="0.80" stroke-dasharray="2,1.5"/>
<line x1="344.6" y1="853.4" x2="344.6" y2="880.5" stroke="#000" stroke-width="0.80" stroke-dasharray="2,1.5"/>
<line x1="216.0" y1="853.3" x2="250.0" y2="860.5" stroke="#000" stroke-width="1.20" stroke-dasharray="4,2.5"/>
<line x1="216.0" y1="866.6" x2="250.0" y2="873.8" stroke="#000" stroke-width="1.20" stroke-dasharray="4,2.5"/>
<line x1="200.3" y1="858.7" x2="179.0" y2="874.5" stroke="#000" stroke-width="1.20" stroke-dasharray="4,2.5"/>
<line x1="208.0" y1="868.6" x2="186.5" y2="886.3" stroke="#000" stroke-width="1.20" stroke-dasharray="4,2.5"/>
<line x1="169.7" y1="890.0" x2="166.5" y2="917.0" stroke="#000" stroke-width="1.20" stroke-dasharray="4,2.5"/>
<line x1="183.8" y1="890.0" x2="180.8" y2="917.0" stroke="#000" stroke-width="1.20" stroke-dasharray="4,2.5"/>
<line x1="165.0" y1="932.0" x2="165.0" y2="960.0" stroke="#000" stroke-width="1.00" stroke-dasharray="3,2"/>
<line x1="178.4" y1="932.0" x2="178.4" y2="960.0" stroke="#000" stroke-width="1.00" stroke-dasharray="3,2"/>
<circle cx="209.7" cy="859.2" r="8.9" fill="#fff" stroke="#000" stroke-width="1.40"/>
<circle cx="209.7" cy="859.2" r="7.3" fill="none" stroke="#000" stroke-width="1.00"/>
<circle cx="219.3" cy="861" r="1.4" fill="#000"/>
<circle cx="177.2" cy="884.4" r="8.4" fill="#fff" stroke="#000" stroke-width="1.60"/>
<circle cx="185.6" cy="878.5" r="1.3" fill="#000"/>
<circle cx="171.3" cy="924.8" r="8.4" fill="#fff" stroke="#000" stroke-width="1.60"/>
<circle cx="173" cy="916.5" r="1.3" fill="#000"/>
<circle cx="171.7" cy="964.5" r="8.6" fill="none" stroke="#000" stroke-width="1.00" stroke-dasharray="2,1.5"/>
<line x1="196.3" y1="846.2" x2="223.4" y2="846.2" stroke="#000" stroke-width="0.80" stroke-dasharray="2,1.5"/>
<line x1="196.3" y1="873.3" x2="223.4" y2="873.3" stroke="#000" stroke-width="0.80" stroke-dasharray="2,1.5"/>
<line x1="196.3" y1="846.2" x2="196.3" y2="873.3" stroke="#000" stroke-width="0.80" stroke-dasharray="2,1.5"/>
<line x1="223.4" y1="846.2" x2="223.4" y2="873.3" stroke="#000" stroke-width="0.80" stroke-dasharray="2,1.5"/>
<line x1="153.2" y1="947.2" x2="188.9" y2="947.2" stroke="#000" stroke-width="0.80" stroke-dasharray="2,1.5"/>
<line x1="153.2" y1="981.7" x2="188.9" y2="981.7" stroke="#000" stroke-width="0.80" stroke-dasharray="2,1.5"/>
<line x1="153.2" y1="947.2" x2="153.2" y2="981.7" stroke="#000" stroke-width="0.80" stroke-dasharray="2,1.5"/>
<line x1="188.9" y1="947.2" x2="188.9" y2="981.7" stroke="#000" stroke-width="0.80" stroke-dasharray="2,1.5"/>
<circle cx="234.7" cy="792.6" r="3.5" fill="none" stroke="#3c3c3c" stroke-width="0.9" stroke-dasharray="4,1"/>
<path d="M235.7,791.0 a1.9,1.9 0 1 0 0,3.2" fill="none" stroke="#444" stroke-width="0.8"/>
<circle cx="234.7" cy="940.0" r="3.5" fill="none" stroke="#3c3c3c" stroke-width="0.9" stroke-dasharray="4,1"/>
<path d="M235.7,938.4 a1.9,1.9 0 1 0 0,3.2" fill="none" stroke="#444" stroke-width="0.8"/>
<circle cx="275.5" cy="792.6" r="3.5" fill="none" stroke="#3c3c3c" stroke-width="0.9" stroke-dasharray="4,1"/>
<path d="M276.5,791.0 a1.9,1.9 0 1 0 0,3.2" fill="none" stroke="#444" stroke-width="0.8"/>
<circle cx="275.5" cy="940.0" r="3.5" fill="none" stroke="#3c3c3c" stroke-width="0.9" stroke-dasharray="4,1"/>
<path d="M276.5,938.4 a1.9,1.9 0 1 0 0,3.2" fill="none" stroke="#444" stroke-width="0.8"/>
<circle cx="316.3" cy="792.6" r="3.5" fill="none" stroke="#3c3c3c" stroke-width="0.9" stroke-dasharray="4,1"/>
<path d="M317.3,791.0 a1.9,1.9 0 1 0 0,3.2" fill="none" stroke="#444" stroke-width="0.8"/>
<circle cx="316.3" cy="940.0" r="3.5" fill="none" stroke="#3c3c3c" stroke-width="0.9" stroke-dasharray="4,1"/>
<path d="M317.3,938.4 a1.9,1.9 0 1 0 0,3.2" fill="none" stroke="#444" stroke-width="0.8"/>
<circle cx="357.0" cy="792.6" r="3.5" fill="none" stroke="#3c3c3c" stroke-width="0.9" stroke-dasharray="4,1"/>
<path d="M358.0,791.0 a1.9,1.9 0 1 0 0,3.2" fill="none" stroke="#444" stroke-width="0.8"/>
<circle cx="357.0" cy="940.0" r="3.5" fill="none" stroke="#3c3c3c" stroke-width="0.9" stroke-dasharray="4,1"/>
<path d="M358.0,938.4 a1.9,1.9 0 1 0 0,3.2" fill="none" stroke="#444" stroke-width="0.8"/>
<circle cx="397.8" cy="792.6" r="3.5" fill="none" stroke="#3c3c3c" stroke-width="0.9" stroke-dasharray="4,1"/>
<path d="M398.8,791.0 a1.9,1.9 0 1 0 0,3.2" fill="none" stroke="#444" stroke-width="0.8"/>
<circle cx="397.8" cy="940.0" r="3.5" fill="none" stroke="#3c3c3c" stroke-width="0.9" stroke-dasharray="4,1"/>
<path d="M398.8,938.4 a1.9,1.9 0 1 0 0,3.2" fill="none" stroke="#444" stroke-width="0.8"/>
<circle cx="438.7" cy="792.6" r="3.5" fill="none" stroke="#3c3c3c" stroke-width="0.9" stroke-dasharray="4,1"/>
<path d="M439.7,791.0 a1.9,1.9 0 1 0 0,3.2" fill="none" stroke="#444" stroke-width="0.8"/>
<circle cx="438.7" cy="940.0" r="3.5" fill="none" stroke="#3c3c3c" stroke-width="0.9" stroke-dasharray="4,1"/>
<path d="M439.7,938.4 a1.9,1.9 0 1 0 0,3.2" fill="none" stroke="#444" stroke-width="0.8"/>
<circle cx="479.5" cy="792.6" r="3.5" fill="none" stroke="#3c3c3c" stroke-width="0.9" stroke-dasharray="4,1"/>
<path d="M480.5,791.0 a1.9,1.9 0 1 0 0,3.2" fill="none" stroke="#444" stroke-width="0.8"/>
<circle cx="479.5" cy="940.0" r="3.5" fill="none" stroke="#3c3c3c" stroke-width="0.9" stroke-dasharray="4,1"/>
<path d="M480.5,938.4 a1.9,1.9 0 1 0 0,3.2" fill="none" stroke="#444" stroke-width="0.8"/>
<circle cx="520.0" cy="940.0" r="3.5" fill="none" stroke="#3c3c3c" stroke-width="0.9" stroke-dasharray="4,1"/>
<path d="M521.0,938.4 a1.9,1.9 0 1 0 0,3.2" fill="none" stroke="#444" stroke-width="0.8"/>
<circle cx="87.0" cy="853.0" r="3.5" fill="none" stroke="#3c3c3c" stroke-width="0.9" stroke-dasharray="4,1"/>
<path d="M88.0,851.4 a1.9,1.9 0 1 0 0,3.2" fill="none" stroke="#444" stroke-width="0.8"/>
<circle cx="87.0" cy="940.0" r="3.5" fill="none" stroke="#3c3c3c" stroke-width="0.9" stroke-dasharray="4,1"/>
<path d="M88.0,938.4 a1.9,1.9 0 1 0 0,3.2" fill="none" stroke="#444" stroke-width="0.8"/>
<circle cx="87.0" cy="980.0" r="3.5" fill="none" stroke="#3c3c3c" stroke-width="0.9" stroke-dasharray="4,1"/>
<path d="M88.0,978.4 a1.9,1.9 0 1 0 0,3.2" fill="none" stroke="#444" stroke-width="0.8"/>
<circle cx="235.0" cy="980.0" r="3.5" fill="none" stroke="#3c3c3c" stroke-width="0.9" stroke-dasharray="4,1"/>
<path d="M236.0,978.4 a1.9,1.9 0 1 0 0,3.2" fill="none" stroke="#444" stroke-width="0.8"/>
<circle cx="156.0" cy="793.0" r="3.5" fill="none" stroke="#3c3c3c" stroke-width="0.9" stroke-dasharray="4,1"/>
<path d="M157.0,791.4 a1.9,1.9 0 1 0 0,3.2" fill="none" stroke="#444" stroke-width="0.8"/>
<circle cx="123.6" cy="969.4" r="11.0" fill="none" stroke="#000" stroke-width="0.80"/>
<text x="118.7" y="975.4" font-family='"Liberation Sans", sans-serif' font-style="italic" font-size="16.5" stroke="#000" stroke-width="0.2" textLength="9.2" lengthAdjust="spacingAndGlyphs">1</text>
<circle cx="123.6" cy="914.0" r="11.0" fill="none" stroke="#000" stroke-width="0.80"/>
<text x="118.7" y="920.0" font-family='"Liberation Sans", sans-serif' font-style="italic" font-size="16.5" stroke="#000" stroke-width="0.2" textLength="9.2" lengthAdjust="spacingAndGlyphs">2</text>
<circle cx="150.7" cy="853.6" r="11.0" fill="none" stroke="#000" stroke-width="0.80"/>
<text x="145.8" y="859.6" font-family='"Liberation Sans", sans-serif' font-style="italic" font-size="16.5" stroke="#000" stroke-width="0.2" textLength="9.2" lengthAdjust="spacingAndGlyphs">3</text>
<circle cx="209.1" cy="830.2" r="11.0" fill="none" stroke="#000" stroke-width="0.80"/>
<text x="204.2" y="836.2" font-family='"Liberation Sans", sans-serif' font-style="italic" font-size="16.5" stroke="#000" stroke-width="0.2" textLength="9.2" lengthAdjust="spacingAndGlyphs">4</text>
<circle cx="254.0" cy="829.3" r="10.9" fill="none" stroke="#000" stroke-width="0.80"/>
<text x="249.1" y="835.3" font-family='"Liberation Sans", sans-serif' font-style="italic" font-size="16.5" stroke="#000" stroke-width="0.2" textLength="9.2" lengthAdjust="spacingAndGlyphs">5</text>
<circle cx="295.4" cy="829.3" r="10.9" fill="none" stroke="#000" stroke-width="0.80"/>
<text x="290.5" y="835.3" font-family='"Liberation Sans", sans-serif' font-style="italic" font-size="16.5" stroke="#000" stroke-width="0.2" textLength="9.2" lengthAdjust="spacingAndGlyphs">6</text>
<circle cx="336.2" cy="829.3" r="10.9" fill="none" stroke="#000" stroke-width="0.80"/>
<text x="331.3" y="835.3" font-family='"Liberation Sans", sans-serif' font-style="italic" font-size="16.5" stroke="#000" stroke-width="0.2" textLength="9.2" lengthAdjust="spacingAndGlyphs">7</text>
<circle cx="377.0" cy="829.3" r="10.9" fill="none" stroke="#000" stroke-width="0.80"/>
<text x="372.1" y="835.3" font-family='"Liberation Sans", sans-serif' font-style="italic" font-size="16.5" stroke="#000" stroke-width="0.2" textLength="9.2" lengthAdjust="spacingAndGlyphs">8</text>
<circle cx="416.2" cy="829.8" r="10.9" fill="none" stroke="#000" stroke-width="0.80"/>
<text x="411.3" y="835.8" font-family='"Liberation Sans", sans-serif' font-style="italic" font-size="16.5" stroke="#000" stroke-width="0.2" textLength="9.2" lengthAdjust="spacingAndGlyphs">9</text>
<circle cx="455.6" cy="829.8" r="14.4" fill="none" stroke="#000" stroke-width="0.80"/>
<text x="446.1" y="835.8" font-family='"Liberation Sans", sans-serif' font-style="italic" font-size="16.5" stroke="#000" stroke-width="0.2" textLength="18.5" lengthAdjust="spacingAndGlyphs">10</text>
<circle cx="502.4" cy="829.8" r="14.4" fill="none" stroke="#000" stroke-width="0.80"/>
<text x="492.8" y="835.8" font-family='"Liberation Sans", sans-serif' font-style="italic" font-size="16.5" stroke="#000" stroke-width="0.2" textLength="18.5" lengthAdjust="spacingAndGlyphs">11</text>
<text x="166.0" y="750.6" font-family='"Liberation Sans", sans-serif' font-style="italic" font-size="16.5" stroke="#000" stroke-width="0.2" textLength="78.5" lengthAdjust="spacingAndGlyphs">Подпорка</text>
<text x="192.0" y="767.4" font-family='"Liberation Sans", sans-serif' font-style="italic" font-size="16.5" stroke="#000" stroke-width="0.2" textLength="26.5" lengthAdjust="spacingAndGlyphs">№1</text>
<text x="299.0" y="750.6" font-family='"Liberation Sans", sans-serif' font-style="italic" font-size="16.5" stroke="#000" stroke-width="0.2" textLength="78.0" lengthAdjust="spacingAndGlyphs">Подпорка</text>
<text x="324.0" y="767.4" font-family='"Liberation Sans", sans-serif' font-style="italic" font-size="16.5" stroke="#000" stroke-width="0.2" textLength="27.5" lengthAdjust="spacingAndGlyphs">№2</text>
<line x1="163.0" y1="771.4" x2="245.5" y2="771.4" stroke="#000" stroke-width="0.80" />
<line x1="245.5" y1="771.4" x2="218.3" y2="849.5" stroke="#000" stroke-width="0.80" />
<line x1="295.9" y1="771.4" x2="378.2" y2="771.4" stroke="#000" stroke-width="0.80" />
<line x1="378.2" y1="771.4" x2="339.4" y2="856.1" stroke="#000" stroke-width="0.80" />
<mask id="wmm" maskUnits="userSpaceOnUse" x="0" y="0" width="1191" height="1015"><rect width="1191" height="1015" fill="#fff"/><text x="0" y="0" font-family='"Liberation Sans", sans-serif' font-weight="bold" font-size="59" transform="translate(430.8,645.5) rotate(-35.4)" textLength="431" lengthAdjust="spacingAndGlyphs" fill="#000" stroke="#000" stroke-width="0.4">lestnicy-prosto.ru</text></mask>
<g mask="url(#wmm)"><text x="0" y="0" font-family='"Liberation Sans", sans-serif' font-weight="bold" font-size="59" transform="translate(430.8,645.5) rotate(-35.4)" textLength="431" lengthAdjust="spacingAndGlyphs" fill="none" stroke="#b0b0b0" stroke-width="3.6" stroke-linejoin="round">lestnicy-prosto.ru</text></g>
</svg></body></html>
